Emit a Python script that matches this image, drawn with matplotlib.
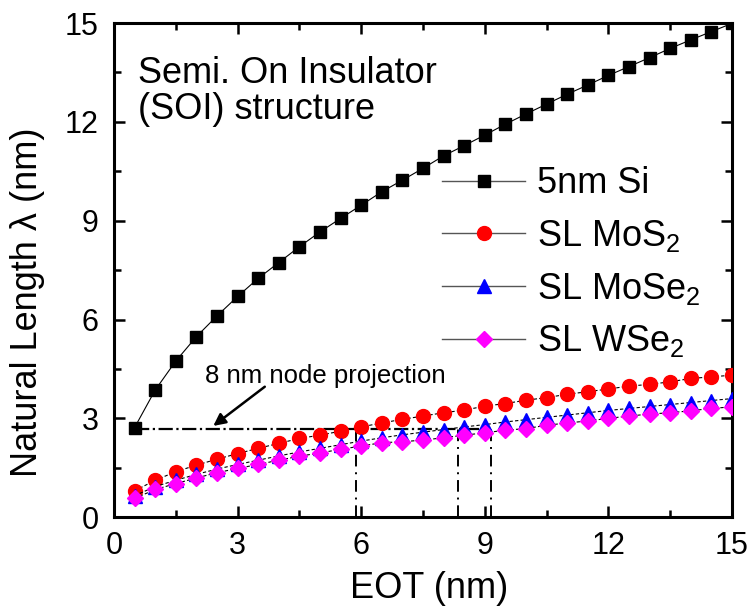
import numpy as np
import matplotlib
matplotlib.use("Agg")
import matplotlib.pyplot as plt
from matplotlib.lines import Line2D
from matplotlib.ticker import MultipleLocator

plt.rcParams['font.family'] = ['Liberation Sans', 'DejaVu Sans']
plt.rcParams['mathtext.fontset'] = 'custom'
plt.rcParams['mathtext.rm'] = 'Liberation Sans'

# EOT (nm)
eot = [0.5, 1.0, 1.5, 2.0, 2.5, 3.0, 3.5, 4.0, 4.5, 5.0,
       5.5, 6.0, 6.5, 7.0, 7.5, 8.0, 8.5, 9.0, 9.5, 10.0,
       10.5, 11.0, 11.5, 12.0, 12.5, 13.0, 13.5, 14.0, 14.5, 15.0]

# natural length (nm)
si_5nm = [2.72, 3.86, 4.74, 5.48, 6.11, 6.70, 7.25, 7.73, 8.21, 8.66,
          9.07, 9.47, 9.88, 10.23, 10.59, 10.97, 11.28, 11.60, 11.93, 12.24,
          12.54, 12.84, 13.12, 13.41, 13.68, 13.95, 14.23, 14.49, 14.74, 14.99]
mos2 = [0.80, 1.12, 1.38, 1.58, 1.76, 1.93, 2.09, 2.24, 2.39, 2.49,
        2.61, 2.74, 2.86, 2.97, 3.07, 3.17, 3.25, 3.37, 3.45, 3.55,
        3.63, 3.73, 3.81, 3.89, 3.98, 4.03, 4.11, 4.21, 4.26, 4.31]
mose2 = [0.65, 0.93, 1.12, 1.30, 1.46, 1.60, 1.73, 1.86, 1.98, 2.09,
         2.20, 2.31, 2.41, 2.50, 2.58, 2.66, 2.74, 2.81, 2.89, 2.96,
         3.03, 3.10, 3.17, 3.24, 3.30, 3.36, 3.42, 3.48, 3.54, 3.60]
wse2 = [0.57, 0.84, 1.02, 1.19, 1.35, 1.48, 1.60, 1.73, 1.85, 1.95,
        2.06, 2.16, 2.26, 2.29, 2.34, 2.41, 2.49, 2.56, 2.64, 2.69,
        2.79, 2.86, 2.92, 3.00, 3.07, 3.13, 3.17, 3.23, 3.30, 3.35]

# 8 nm node projection
node_lambda = 2.67
node_x_range = [0.5, 9.15]
cross_eot = [5.87, 8.36, 9.15]

fig = plt.figure(figsize=(7.5, 6.07), dpi=100)
ax = fig.add_axes([0.152, 0.148, 0.824, 0.814])

dash = (0, (3, 2))
ax.plot(eot, si_5nm, color='k', ls='-', lw=0.8, marker='s', ms=9,
        mfc='k', mec='k', zorder=3)
ax.plot(eot, mos2, color='k', ls=dash, lw=0.8, marker='o', ms=10,
        mfc='#FF0000', mec='#FF0000', zorder=3)
ax.plot(eot, mose2, color='k', ls=dash, lw=0.8, marker='^', ms=10,
        mfc='#0000FF', mec='#0000FF', zorder=3)
ax.plot(eot, wse2, color='k', ls=dash, lw=0.8, marker='D', ms=8.5,
        mfc='#FF00FF', mec='#FF00FF', zorder=3)

ax.plot(node_x_range, [node_lambda, node_lambda], color='k', ls='-.', lw=1.6, zorder=2)
for xv in cross_eot:
    ax.plot([xv, xv], [0, node_lambda], color='k', ls=(0, (6, 3, 1, 3)), lw=1.4, zorder=2)

ax.text(2.2, 4.07, '8 nm node projection', fontsize=18.5, ha='left', va='baseline')
ax.annotate('', xy=(2.41, 2.77), xytext=(3.66, 3.96),
            arrowprops=dict(arrowstyle='-|>', color='k', lw=1.8,
                            mutation_scale=18, shrinkA=0, shrinkB=0))

ax.text(0.58, 13.18, 'Semi. On Insulator', fontsize=26, ha='left', va='baseline')
ax.text(0.58, 12.1, '(SOI) structure', fontsize=26, ha='left', va='baseline')

ax.set_xlim(0, 15)
ax.set_ylim(0, 15)
ax.xaxis.set_major_locator(MultipleLocator(3))
ax.xaxis.set_minor_locator(MultipleLocator(1.5))
ax.yaxis.set_major_locator(MultipleLocator(3))
ax.yaxis.set_minor_locator(MultipleLocator(1.5))
ax.tick_params(which='both', direction='in', top=True, right=True,
               labelsize=22, width=1.8)
ax.tick_params(which='major', length=8)
ax.tick_params(axis='x', which='major', pad=10)
ax.tick_params(axis='y', which='major', pad=11)
ax.tick_params(which='minor', length=5)
for s in ax.spines.values():
    s.set_linewidth(2.2)

ax.set_xlabel('EOT (nm)', fontsize=26)
ax.set_ylabel('Natural Length λ (nm)', fontsize=26)
ax.xaxis.set_label_coords(0.51, -0.108)
ax.yaxis.set_label_coords(-0.112, 0.434)

handles = [
    Line2D([], [], color='#555555', lw=1, marker='s', ms=9, mfc='k', mec='k'),
    Line2D([], [], color='#555555', lw=1, marker='o', ms=10, mfc='#FF0000', mec='#FF0000'),
    Line2D([], [], color='#555555', lw=1, marker='^', ms=10, mfc='#0000FF', mec='#0000FF'),
    Line2D([], [], color='#555555', lw=1, marker='D', ms=8.5, mfc='#FF00FF', mec='#FF00FF'),
]
labels = ['5nm Si', 'SL MoS$_2$', 'SL MoSe$_2$', 'SL WSe$_2$']
ax.legend(handles, labels, loc='upper left', bbox_to_anchor=(0.531, 0.71),
          frameon=False, fontsize=26, handlelength=2.3, handletextpad=0.33,
          labelspacing=0.46, borderaxespad=0, borderpad=0)

fig.savefig('out.png', dpi=100)
